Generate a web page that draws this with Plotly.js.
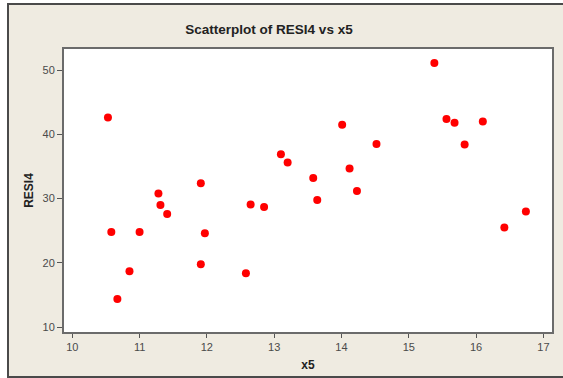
<!DOCTYPE html>
<html>
<head>
<meta charset="utf-8">
<script src="https://cdn.plot.ly/plotly-3.0.1.min.js"></script>
<style>
  html, body { margin: 0; padding: 0; background: #ffffff; width: 563px; height: 378px; overflow: hidden; }
  #frame { position: absolute; left: 7px; top: 3px; width: 554px; height: 371px;
           border-top: 2px solid #4a4a4a; border-left: 2px solid #4a4a4a; border-bottom: 2px solid #4a4a4a;
           background: #efebe1; }
  #plot { width: 554px; height: 371px; }
</style>
</head>
<body>
<div id="frame"><div id="plot"></div></div>
<script>
// x5 values
const x5 = [10.53, 10.58, 11.00, 10.85, 10.67, 11.28, 11.31, 11.41, 11.91, 11.97,
            11.91, 12.58, 12.65, 12.85, 13.10, 13.20, 13.58, 13.64, 14.01, 14.12,
            14.23, 14.52, 15.38, 15.56, 15.68, 16.10, 15.83, 16.42, 16.74];
// RESI4 values
const resi4 = [42.6, 24.8, 24.8, 18.7, 14.4, 30.8, 29.0, 27.6, 32.4, 24.6,
               19.8, 18.4, 29.1, 28.7, 36.9, 35.6, 33.2, 29.8, 41.5, 34.7,
               31.2, 38.5, 51.1, 42.4, 41.8, 42.0, 38.4, 25.5, 28.0];
const xTicks = [10, 11, 12, 13, 14, 15, 16, 17];
const yTicks = [10, 20, 30, 40, 50];

const tickFont = { family: 'Liberation Sans, Arial, sans-serif', size: 11, color: '#4a4a4a' };
const boldFont = { family: 'Liberation Sans, Arial, sans-serif', size: 12, color: '#222222', weight: 'bold' };

const trace = {
  type: 'scatter', mode: 'markers', x: x5, y: resi4,
  marker: { color: '#ff0000', size: 8 },
  hoverinfo: 'skip'
};

const layout = {
  width: 554, height: 371,
  margin: { l: 55, r: 11, t: 44, b: 44 },
  paper_bgcolor: '#efebe1', plot_bgcolor: '#ffffff',
  showlegend: false,
  title: { text: '<b>Scatterplot of RESI4 vs x5</b>', x: 260 / 554, xref: 'container', xanchor: 'center',
           y: 1 - 24 / 371, yref: 'container', yanchor: 'middle',
           font: { family: 'Liberation Sans, Arial, sans-serif', size: 13.5, color: '#222222' } },
  xaxis: {
    range: [9.877, 17.128], tickvals: xTicks, ticktext: xTicks.map(String),
    ticks: 'outside', ticklen: 4, tickwidth: 1, tickcolor: '#555555',
    showgrid: false, zeroline: false, showline: true, mirror: true,
    linecolor: '#6b6b6b', linewidth: 2, tickfont: tickFont,
    title: { text: '<b>x5</b>', font: boldFont, standoff: 8 }
  },
  yaxis: {
    range: [9.25, 53.27], tickvals: yTicks, ticktext: yTicks.map(String),
    ticks: 'outside', ticklen: 5, tickwidth: 1, tickcolor: '#555555',
    showgrid: false, zeroline: false, showline: true, mirror: true,
    linecolor: '#6b6b6b', linewidth: 2, tickfont: tickFont,
    title: { text: '<b>RESI4</b>', font: boldFont, standoff: 6 }
  }
};

Plotly.newPlot('plot', [trace], layout, { displayModeBar: false, staticPlot: true });
</script>
</body>
</html>
